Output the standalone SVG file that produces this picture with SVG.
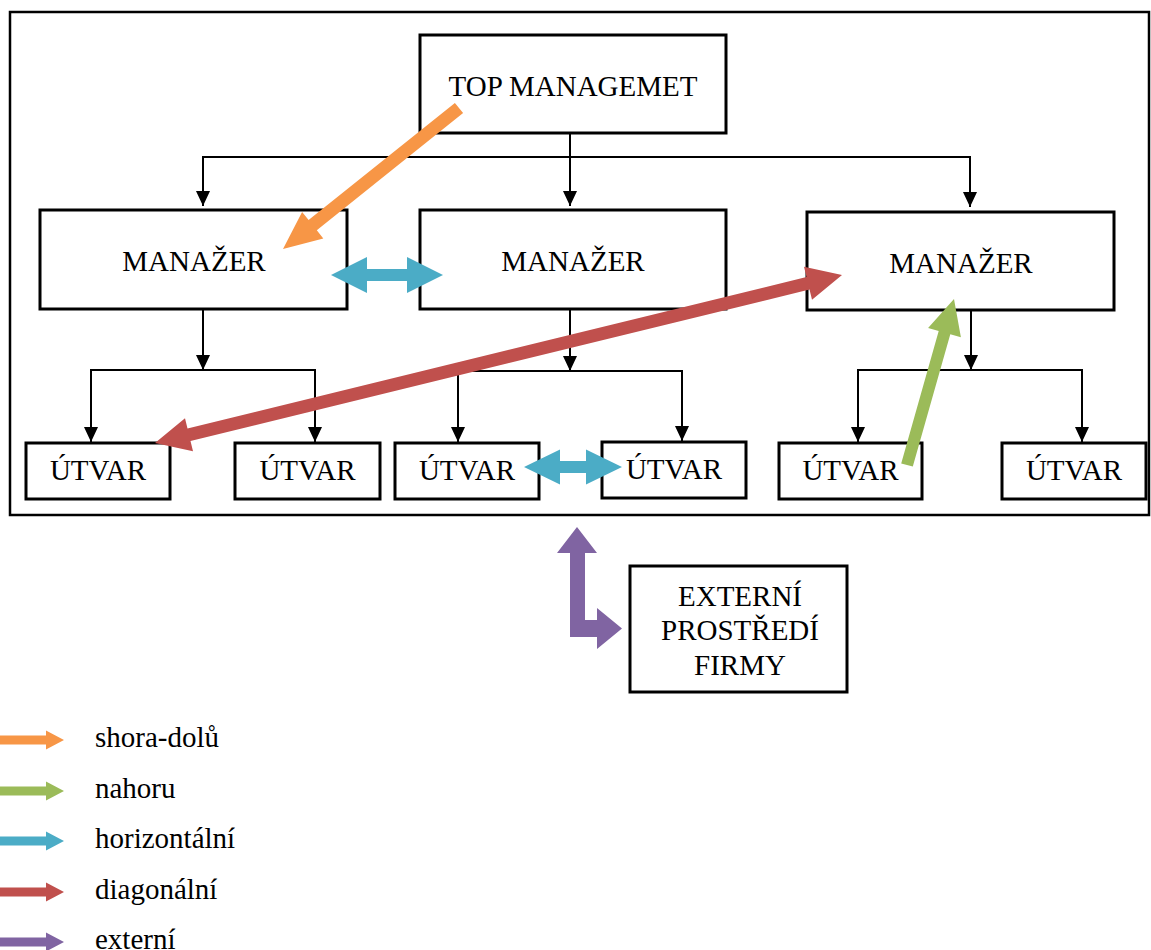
<svg xmlns="http://www.w3.org/2000/svg" width="1151" height="950" viewBox="0 0 1151 950">
<style>
  .box{fill:#fff;stroke:#000;stroke-width:3}
  .frame{fill:none;stroke:#000;stroke-width:2.5}
  .lbl{font-family:"Liberation Serif","Times New Roman",serif;font-size:29px;fill:#000;text-anchor:middle}
  .leg{font-family:"Liberation Serif","Times New Roman",serif;font-size:29px;fill:#000}
  .conn{fill:none;stroke:#000;stroke-width:2}
  .orange{fill:#F79646}.green{fill:#9BBB59}.blue{fill:#4BACC6}.red{fill:#C0504D}.purple{fill:#8064A2}
</style>
<defs>
  <marker id="ah" markerUnits="userSpaceOnUse" markerWidth="16" markerHeight="16" refX="15" refY="7" orient="auto">
    <path d="M0,0 L15,7 L0,14 z" fill="#000"/>
  </marker>
</defs>
<rect class="frame" x="10" y="12" width="1139" height="503"/>

<g id="connectors">
  <line class="conn" x1="570" y1="133" x2="570" y2="206" marker-end="url(#ah)"/>
  <polyline class="conn" points="203,206 203,157 970,157 970,207" marker-end="url(#ah)"/>
  <line class="conn" x1="203" y1="157" x2="203" y2="206" marker-end="url(#ah)"/>
  <line class="conn" x1="203" y1="309" x2="203" y2="370" marker-end="url(#ah)"/>
  <polyline class="conn" points="91,442 91,370 315,370 315,442" marker-end="url(#ah)"/>
  <line class="conn" x1="91" y1="370" x2="91" y2="442" marker-end="url(#ah)"/>
  <line class="conn" x1="570" y1="309" x2="570" y2="371" marker-end="url(#ah)"/>
  <polyline class="conn" points="458,442 458,371 682,371 682,441" marker-end="url(#ah)"/>
  <line class="conn" x1="458" y1="371" x2="458" y2="442" marker-end="url(#ah)"/>
  <line class="conn" x1="971" y1="310" x2="971" y2="370" marker-end="url(#ah)"/>
  <polyline class="conn" points="858,442 858,370 1082,370 1082,442" marker-end="url(#ah)"/>
  <line class="conn" x1="858" y1="370" x2="858" y2="442" marker-end="url(#ah)"/>
</g>

<g id="top"><rect class="box" x="420" y="35" width="306" height="98"/><text class="lbl" x="573" y="96">TOP MANAGEMET</text></g>
<g id="m1"><rect class="box" x="40" y="210" width="307" height="99"/><text class="lbl" x="194" y="271">MANAŽER</text></g>
<g id="m2"><rect class="box" x="420" y="210" width="306" height="99"/><text class="lbl" x="573" y="271">MANAŽER</text></g>
<g id="m3"><rect class="box" x="807" y="212" width="307" height="98"/><text class="lbl" x="961" y="273">MANAŽER</text></g>
<g id="u1"><rect class="box" x="26" y="443" width="144" height="56"/><text class="lbl" x="98" y="480">ÚTVAR</text></g>
<g id="u2"><rect class="box" x="235" y="443" width="145" height="56"/><text class="lbl" x="307.5" y="480">ÚTVAR</text></g>
<g id="u3"><rect class="box" x="395" y="443" width="144" height="56"/><text class="lbl" x="467" y="480">ÚTVAR</text></g>
<g id="u4"><rect class="box" x="602" y="442" width="144" height="56"/><text class="lbl" x="674" y="479">ÚTVAR</text></g>
<g id="u5"><rect class="box" x="779" y="443" width="143" height="56"/><text class="lbl" x="850.5" y="480">ÚTVAR</text></g>
<g id="u6"><rect class="box" x="1002" y="443" width="144" height="56"/><text class="lbl" x="1074" y="480">ÚTVAR</text></g>
<g id="ext"><rect class="box" x="630" y="566" width="217" height="126"/>
  <text class="lbl" x="740" y="606">EXTERNÍ</text>
  <text class="lbl" x="740" y="640">PROSTŘEDÍ</text>
  <text class="lbl" x="740" y="675">FIRMY</text>
</g>

<g id="flows">
  <polygon class="orange" points="454.9,102.9 308.6,220.1 302.1,211.9 283,249 323.3,238.5 316.8,230.3 463.1,113.1"/>
  <polygon class="blue" points="331,275 367,257 367,269 407,269 407,257 443,275 407,293 407,281 367,281 367,293"/>
  <polygon class="blue" points="524,467 560,449.5 560,461 586,461 586,449.5 622,467 586,484.5 586,473 560,473 560,484.5"/>
  <polygon class="red" points="155,443 193,451.2 190.5,441 809.5,289.6 812,299.8 842,275 804,266.8 806.5,277 187.5,428.4 185,418.2"/>
  <polygon class="green" points="901.2,463.4 938.7,331.1 928.1,328 954,299 960.9,337.3 950.3,334.3 912.8,466.6"/>
  <polygon class="purple" points="577,527 597,553 585,553 585,620 597,620 597,608 622,628.5 597,649 597,637 570,637 570,553 557,553"/>
</g>

<g id="legend">
  <polygon class="orange" points="0,735.5 46,735.5 46,730.5 64,740 46,749.5 46,744.5 0,744.5"/>
  <text class="leg" x="95" y="747">shora-dolů</text>
  <polygon class="green" points="0,786.5 46,786.5 46,781.5 64,791 46,800.5 46,795.5 0,795.5"/>
  <text class="leg" x="95" y="798">nahoru</text>
  <polygon class="blue" points="0,836.5 46,836.5 46,831.5 64,841 46,850.5 46,845.5 0,845.5"/>
  <text class="leg" x="95" y="848">horizontální</text>
  <polygon class="red" points="0,887.5 46,887.5 46,882.5 64,892 46,901.5 46,896.5 0,896.5"/>
  <text class="leg" x="95" y="899">diagonální</text>
  <polygon class="purple" points="0,937.5 46,937.5 46,932.5 64,942 46,951.5 46,946.5 0,946.5"/>
  <text class="leg" x="95" y="949">externí</text>
</g>
</svg>
